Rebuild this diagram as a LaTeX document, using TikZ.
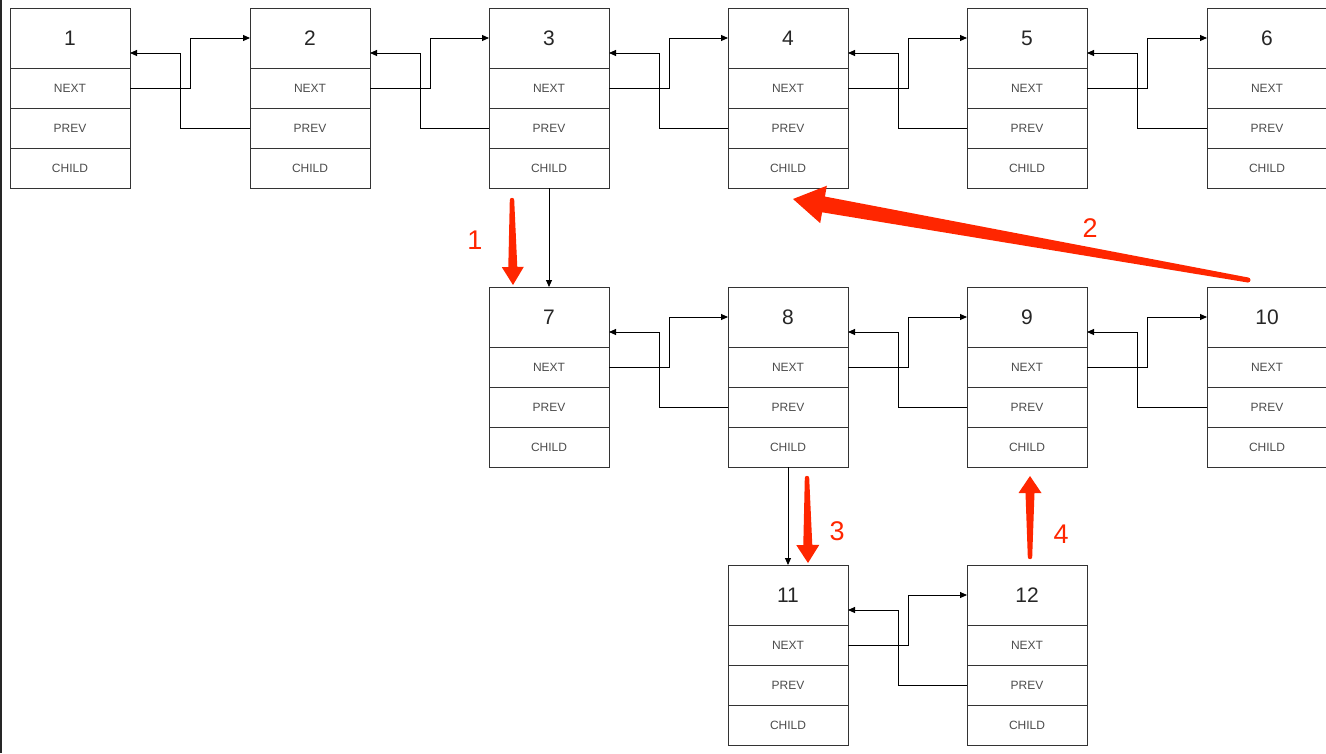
\documentclass[tikz,border=0pt]{standalone}
\usepackage{fontspec}
\setmainfont{Liberation Sans}
\usetikzlibrary{positioning,calc,arrows.meta}

\definecolor{hiRed}{RGB}{255,38,0}

\tikzset{
  head/.style={draw=black!80, line width=1pt, outer sep=0pt, inner sep=0pt,
    minimum width=120pt, minimum height=60pt,
    font=\fontsize{21}{24}\selectfont, text=black!85},
  field/.style={head, minimum height=40pt,
    font=\fontsize{12}{14}\selectfont, text=black!70},
  link/.style={draw=black, line width=0.9pt, -{Triangle[length=7pt,width=6pt]}},
  redlbl/.style={text=hiRed, font=\fontsize{27}{30}\selectfont}
}

% tail, tip, tail half width, neck half width, head half width, head length
\newcommand{\taperarrow}[6]{%
  \coordinate (neck) at ($(#2)!#6!(#1)$);
  \fill[hiRed] (#1) circle (#3);
  \fill[hiRed] ($(#1)!#3!90:(#2)$) -- ($(neck)!#4!90:(#2)$) -- ($(neck)!#5!90:(#2)$)
    -- (#2) -- ($(neck)!#5!-90:(#2)$) -- ($(neck)!#4!-90:(#2)$)
    -- ($(#1)!#3!-90:(#2)$) -- cycle;
}

\begin{document}
\begin{tikzpicture}[x=1pt,y=-1pt]

\useasboundingbox (0,0) rectangle (1326,753);
\fill[black!85] (0,0) rectangle (2,753);

%NODES
\foreach \id/\px/\py in {1/10/8, 2/250/8, 3/489/8, 4/728/8, 5/967/8, 6/1207/8,
    7/489/287, 8/728/287, 9/967/287, 10/1207/287, 11/728/565, 12/967/565}{
  \node[head, anchor=north west] (n\id) at (\px,\py) {\id};
  \node[field, below=0pt of n\id] (n\id-next) {NEXT};
  \node[field, below=0pt of n\id-next] (n\id-prev) {PREV};
  \node[field, below=0pt of n\id-prev] (n\id-child) {CHILD};
}

%LINKS
% next and prev
\foreach \a/\b in {1/2, 2/3, 3/4, 4/5, 5/6, 7/8, 8/9, 9/10, 11/12}{
  \draw[link] (n\a-next.east) -| ([xshift=60pt]n\a.east) -- (n\b.west);
  \draw[link] (n\b-prev.west) -| ([xshift=50pt,yshift=-15pt]n\a.east) -- ([yshift=-15pt]n\a.east);
}
% child
\draw[link] (n3-child.south) -- (n7.north);
\draw[link] (n8-child.south) -- (n11.north);

%STEPS
\coordinate (s1a) at (512,200);  \coordinate (s1b) at (513,285);
\coordinate (s2a) at (1248,280); \coordinate (s2b) at (793,199);
\coordinate (s3a) at (807,478);  \coordinate (s3b) at (808,563);
\coordinate (s4a) at (1030,557); \coordinate (s4b) at (1030,476);

\taperarrow{s1a}{s1b}{2.2pt}{4.5pt}{11pt}{18pt}
\taperarrow{s2a}{s2b}{2.5pt}{8pt}{19pt}{31pt}
\taperarrow{s3a}{s3b}{2.2pt}{4.5pt}{11.5pt}{18pt}
\taperarrow{s4a}{s4b}{2.2pt}{4.5pt}{11.5pt}{17pt}

\node[redlbl] (l1) at (475,240) {1};
\node[redlbl] (l2) at (1090,228) {2};
\node[redlbl] (l3) at (837,531) {3};
\node[redlbl] (l4) at (1061,534) {4};

\end{tikzpicture}
\end{document}
